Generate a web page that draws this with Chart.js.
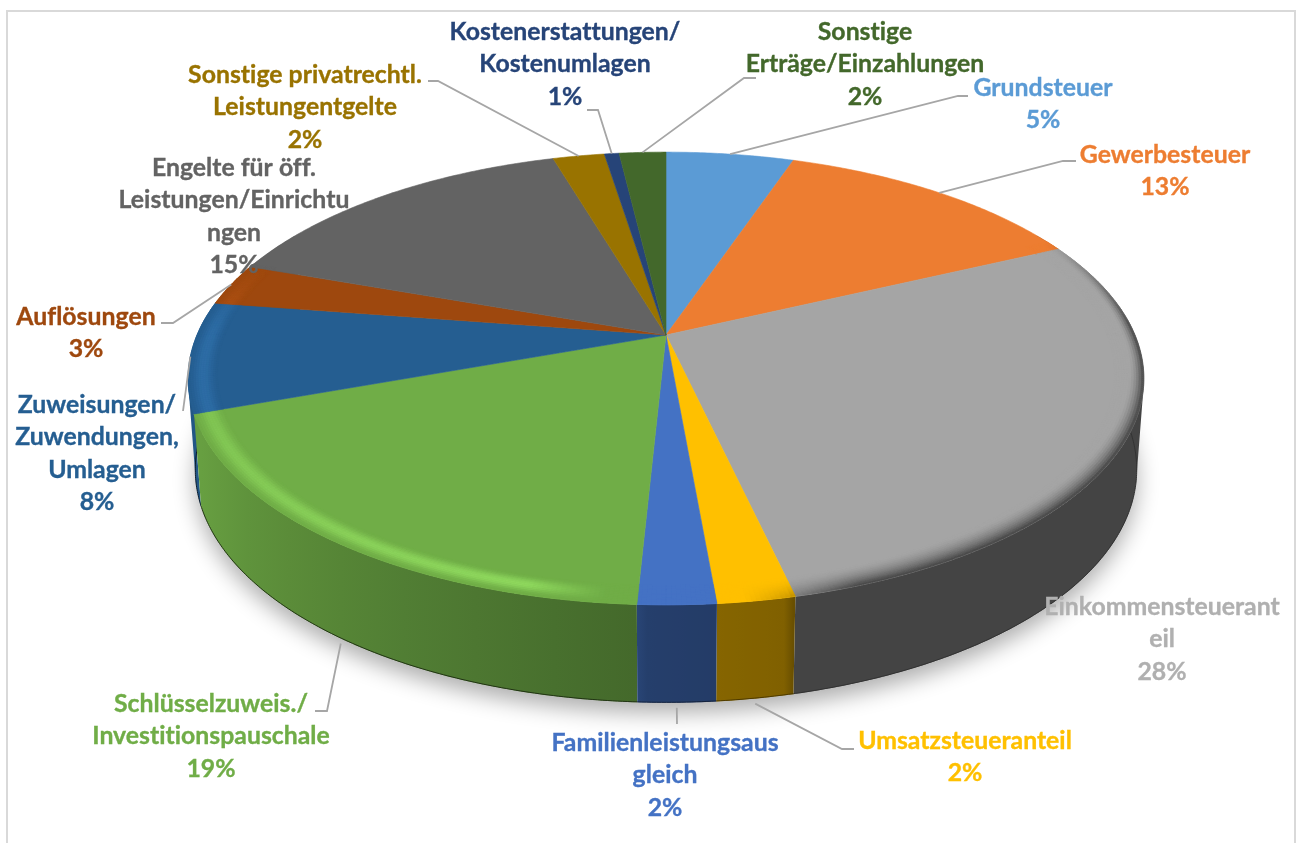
<!DOCTYPE html>
<html lang="de">
<head>
    <meta charset="UTF-8">
    <title>Erträge/Einzahlungen</title>
    <script src="https://cdn.jsdelivr.net/npm/chart.js"></script>
    <style>
        html, body { margin: 0; padding: 0; background: #fff; overflow: hidden; }
        #wrap { position: relative; width: 1298px; height: 843px; overflow: hidden; }
        #frame { position: absolute; left: 6px; top: 10px; width: 1286px; height: 900px; border: 2px solid #d9d9d9; }
        canvas { position: absolute; left: 0; top: 0; }
    </style>
</head>
<body>
<div id="wrap">
    <div id="frame"></div>
    <canvas id="pie" width="1298" height="843"></canvas>
</div>
<script>
const categories = ['Grundsteuer', 'Gewerbesteuer', 'Einkommensteueranteil', 'Umsatzsteueranteil', 'Familienleistungsausgleich', 'Schlüsselzuweis./Investitionspauschale', 'Zuweisungen/Zuwendungen, Umlagen', 'Auflösungen', 'Engelte für öff. Leistungen/Einrichtungen', 'Sonstige privatrechtl. Leistungentgelte', 'Kostenerstattungen/Kostenumlagen', 'Sonstige Erträge/Einzahlungen'];
const values = [5.2, 12.8, 28.4, 2.2, 2.2, 18.7, 7.9, 3.0, 15.0, 2.1, 0.6, 1.9];
const colors = ['#5b9bd5', '#ed7d31', '#a5a5a5', '#ffc000', '#4472c4', '#70ad47', '#255e91', '#9e480e', '#636363', '#997300', '#264478', '#43682b'];

// wrapped label lines as Excel broke them, with centre x / first line y
const labelLines = [
    ['Grundsteuer'], ['Gewerbesteuer'], ['Einkommensteuerant', 'eil'], ['Umsatzsteueranteil'],
    ['Familienleistungsaus', 'gleich'], ['Schlüsselzuweis./', 'Investitionspauschale'],
    ['Zuweisungen/', 'Zuwendungen,', 'Umlagen'], ['Auflösungen'],
    ['Engelte für öff.', 'Leistungen/Einrichtu', 'ngen'], ['Sonstige privatrechtl.', 'Leistungentgelte'],
    ['Kostenerstattungen/', 'Kostenumlagen'], ['Sonstige', 'Erträge/Einzahlungen']
];
const labelX = [1043, 1165, 1162, 965, 665, 211, 97, 86, 234, 305, 565, 865];
const labelY = [88, 155, 607, 741, 743, 704, 405, 317, 168, 75, 32, 32];
const labelFills = ['#5b9bd5', '#ed7d31', '#b0b0b0', '#ffc000', '#4472c4', '#70ad47', '#255e91', '#9e480e', '#636363', '#997300', '#264478', '#43682b'];

// leader lines: the rest of the polyline after the slice anchor
const leaderEnds = [
    [[958, 96], [968, 96]], [[1063, 161], [1076, 161]], [], [[842, 749], [854, 749]],
    [[677, 724]], [[327, 711], [315, 711]], [[183, 411]], [[173, 323], [161, 323]],
    [], [[438, 81], [428, 81]], [[598, 110], [587, 110]], [[744, 78], [756, 78]]
];

const view = { cx: 666, cy: 335, a: 218, b: 0.192, c: 469 };

function project(theta, r) {
    const x = r * Math.sin(theta), y = -r * Math.cos(theta);
    const w = 1 - view.b * y;
    return { x: view.cx + view.c * x / w, y: view.cy + view.a * y / w, uy: y };
}
function lower(theta) {
    const p = project(theta, 1);
    return { x: view.cx + (p.x - view.cx) * 0.985, y: p.y + 90 + 8 * p.uy };
}
function rgb(hex) {
    return [1, 3, 5].map(i => parseInt(hex.substr(i, 2), 16));
}
function mix(c, d, t) {
    return c.map((v, i) => v + (d[i] - v) * t);
}
function css(c) {
    return 'rgb(' + c.map(v => Math.round(v)).join(',') + ')';
}
function clamp(v) {
    return Math.max(0, Math.min(1, v));
}
// how dark the side wall is, by angle round the pie (degrees clockwise from top)
function wallShade(deg) {
    if (deg >= 182) return 0.6 + 0.32 * clamp((deg - 182) / 66);
    if (deg >= 167.5) return 0.5 + 0.05 * clamp((deg - 167.5) / 14.5);
    return 0.41;
}
function quad(ctx, p1, p2, p3, p4, color) {
    ctx.fillStyle = color;
    ctx.strokeStyle = color;
    ctx.lineWidth = 0.6;
    ctx.beginPath();
    ctx.moveTo(p1.x, p1.y);
    ctx.lineTo(p2.x, p2.y);
    ctx.lineTo(p3.x, p3.y);
    ctx.lineTo(p4.x, p4.y);
    ctx.closePath();
    ctx.fill();
    ctx.stroke();
}
function drawWall(ctx, arc, i) {
    const step = Math.PI / 360;
    const lo = Math.PI / 3, hi = Math.PI * 5 / 3;
    const from = Math.max(arc.startAngle + Math.PI / 2, lo), to = Math.min(arc.endAngle + Math.PI / 2, hi);
    if (from >= to) return;
    const base = rgb(colors[i]);
    const pts = [];
    for (let t = from; t < to; t += step) pts.push(t);
    pts.push(to);

    const x0 = lower(from).x, x1 = lower(to).x;
    const grad = ctx.createLinearGradient(x0, 0, x1 === x0 ? x0 + 1 : x1, 0);
    for (let k = 0; k <= 8; k++) {
        const t = from + (to - from) * k / 8;
        const off = k === 0 ? 0 : k === 8 ? 1 : clamp((lower(t).x - x0) / (x1 - x0));
        grad.addColorStop(off, css(mix([0, 0, 0], base, wallShade(t * 180 / Math.PI))));
    }
    // all strips in one path so no seams show; rim and bottom edge cross near the sides,
    // so every strip is wound the same way or they would cancel out
    ctx.fillStyle = grad;
    ctx.beginPath();
    for (let n = 0; n + 1 < pts.length; n++) {
        let q = [project(pts[n], 1), project(pts[n + 1], 1), lower(pts[n + 1]), lower(pts[n])];
        let area = 0;
        q.forEach((p, j) => {
            const o = q[(j + 1) % 4];
            area += p.x * o.y - o.x * p.y;
        });
        if (area < 0) q = q.reverse();
        ctx.moveTo(q[0].x, q[0].y);
        ctx.lineTo(q[1].x, q[1].y);
        ctx.lineTo(q[2].x, q[2].y);
        ctx.lineTo(q[3].x, q[3].y);
        ctx.closePath();
    }
    ctx.fill();

    // dark line along the bottom edge
    ctx.strokeStyle = css(mix([0, 0, 0], base, 0.3));
    ctx.lineWidth = 1;
    ctx.beginPath();
    pts.forEach(t => { const p = lower(t); ctx.lineTo(p.x, p.y - 0.5); });
    ctx.stroke();
}

const pie3d = {
    id: 'pie3d',
    beforeDatasetsDraw(chart) {
        const ctx = chart.ctx;
        const arcs = chart.getDatasetMeta(0).data;
        const step = Math.PI / 360;
        ctx.save();

        // soft shadow under the body
        ctx.save();
        ctx.shadowColor = 'rgba(0,0,0,0.32)';
        ctx.shadowBlur = 22;
        ctx.shadowOffsetY = 10;
        ctx.fillStyle = '#fff';
        ctx.beginPath();
        for (let t = 0; t < Math.PI * 2; t += step * 2) {
            const p = lower(t);
            ctx.lineTo(p.x, p.y);
        }
        ctx.closePath();
        ctx.fill();
        ctx.restore();

        // side wall, back to front
        const order = arcs.map((arc, i) => i);
        const frontness = i => Math.abs((arcs[i].startAngle + arcs[i].endAngle) / 2 + Math.PI / 2 - Math.PI);
        order.sort((p, q) => frontness(q) - frontness(p));
        order.forEach(i => drawWall(ctx, arcs[i], i));

        // top face
        arcs.forEach((arc, i) => {
            const from = arc.startAngle + Math.PI / 2, to = arc.endAngle + Math.PI / 2;
            ctx.fillStyle = colors[i];
            ctx.strokeStyle = colors[i];
            ctx.lineWidth = 0.6;
            ctx.beginPath();
            ctx.moveTo(view.cx, view.cy);
            for (let t = from; t < to; t += step) {
                const p = project(t, 1);
                ctx.lineTo(p.x, p.y);
            }
            const last = project(to, 1);
            ctx.lineTo(last.x, last.y);
            ctx.closePath();
            ctx.fill();
            ctx.stroke();
        });

        // bevelled rim on the front half
        const rings = 12, inner = 0.94;
        arcs.forEach((arc, i) => {
            const from = arc.startAngle + Math.PI / 2, to = arc.endAngle + Math.PI / 2;
            const base = rgb(colors[i]);
            const bright = base.map(v => Math.min(255, v * 1.2 + 8));
            for (let t = from; t < to; t += step) {
                const e = Math.min(t + step, to);
                const deg = t * 180 / Math.PI;
                if (deg < 62 || deg > 290) continue;
                const fade = clamp((deg - 62) / 25) * clamp((290 - deg) / 20);
                const right = clamp((172 - deg) / 12);
                const left = clamp((deg - 186) / 8) * (1 - 0.45 * clamp((deg - 195) / 55));
                const wall = mix([0, 0, 0], base, wallShade(deg));
                // the dark edge is thin at the side and widens towards the front
                const band = 0.45 + 0.55 * clamp((deg - 95) / 55);
                for (let k = 0; k < rings; k++) {
                    const u = (k + 0.5) / rings;
                    const r0 = inner + (1 - inner) * k / rings, r1 = inner + (1 - inner) * (k + 1) / rings;
                    let c = mix(base, bright, left * fade * Math.pow(Math.sin(Math.PI * u), 2));
                    c = mix(c, wall, right * fade * Math.pow(clamp(1 - (1 - u) / band), 1.8));
                    quad(ctx, project(t, r0), project(e, r0), project(e, r1), project(t, r1), css(c));
                }
            }
        });
        ctx.restore();
        return false;
    },
    afterDraw(chart) {
        const ctx = chart.ctx;
        const arcs = chart.getDatasetMeta(0).data;
        ctx.save();

        // leader lines start from each slice's mid angle
        ctx.strokeStyle = '#a6a6a6';
        ctx.lineWidth = 1.8;
        arcs.forEach((arc, i) => {
            if (!leaderEnds[i].length) return;
            const mid = (arc.startAngle + arc.endAngle) / 2 + Math.PI / 2;
            const deg = mid * 180 / Math.PI;
            const low = deg > 90 && deg < 262;
            const start = low ? lower(mid) : project(mid, 1.0);
            ctx.beginPath();
            ctx.moveTo(start.x, start.y + (low ? 5 : 0));
            leaderEnds[i].forEach(p => ctx.lineTo(p[0], p[1]));
            ctx.stroke();
        });

        ctx.font = 'bold 24.8px Lato, "Noto Sans", sans-serif';
        ctx.letterSpacing = '0.01px';
        ctx.textAlign = 'center';
        ctx.textBaseline = 'middle';
        ctx.lineWidth = 0.35;
        categories.forEach((name, i) => {
            ctx.fillStyle = labelFills[i];
            ctx.strokeStyle = labelFills[i];
            labelLines[i].concat(Math.round(values[i]) + '%').forEach((line, n) => {
                ctx.fillText(line, labelX[i], labelY[i] + n * 32.5);
                ctx.strokeText(line, labelX[i], labelY[i] + n * 32.5);
            });
        });
        ctx.restore();
    }
};

new Chart(document.getElementById('pie'), {
    type: 'pie',
    data: {
        labels: categories,
        datasets: [{ data: values, backgroundColor: colors, borderWidth: 0 }]
    },
    options: {
        responsive: false,
        animation: false,
        plugins: { legend: { display: false }, tooltip: { enabled: false } }
    },
    plugins: [pie3d]
});
</script>
</body>
</html>
